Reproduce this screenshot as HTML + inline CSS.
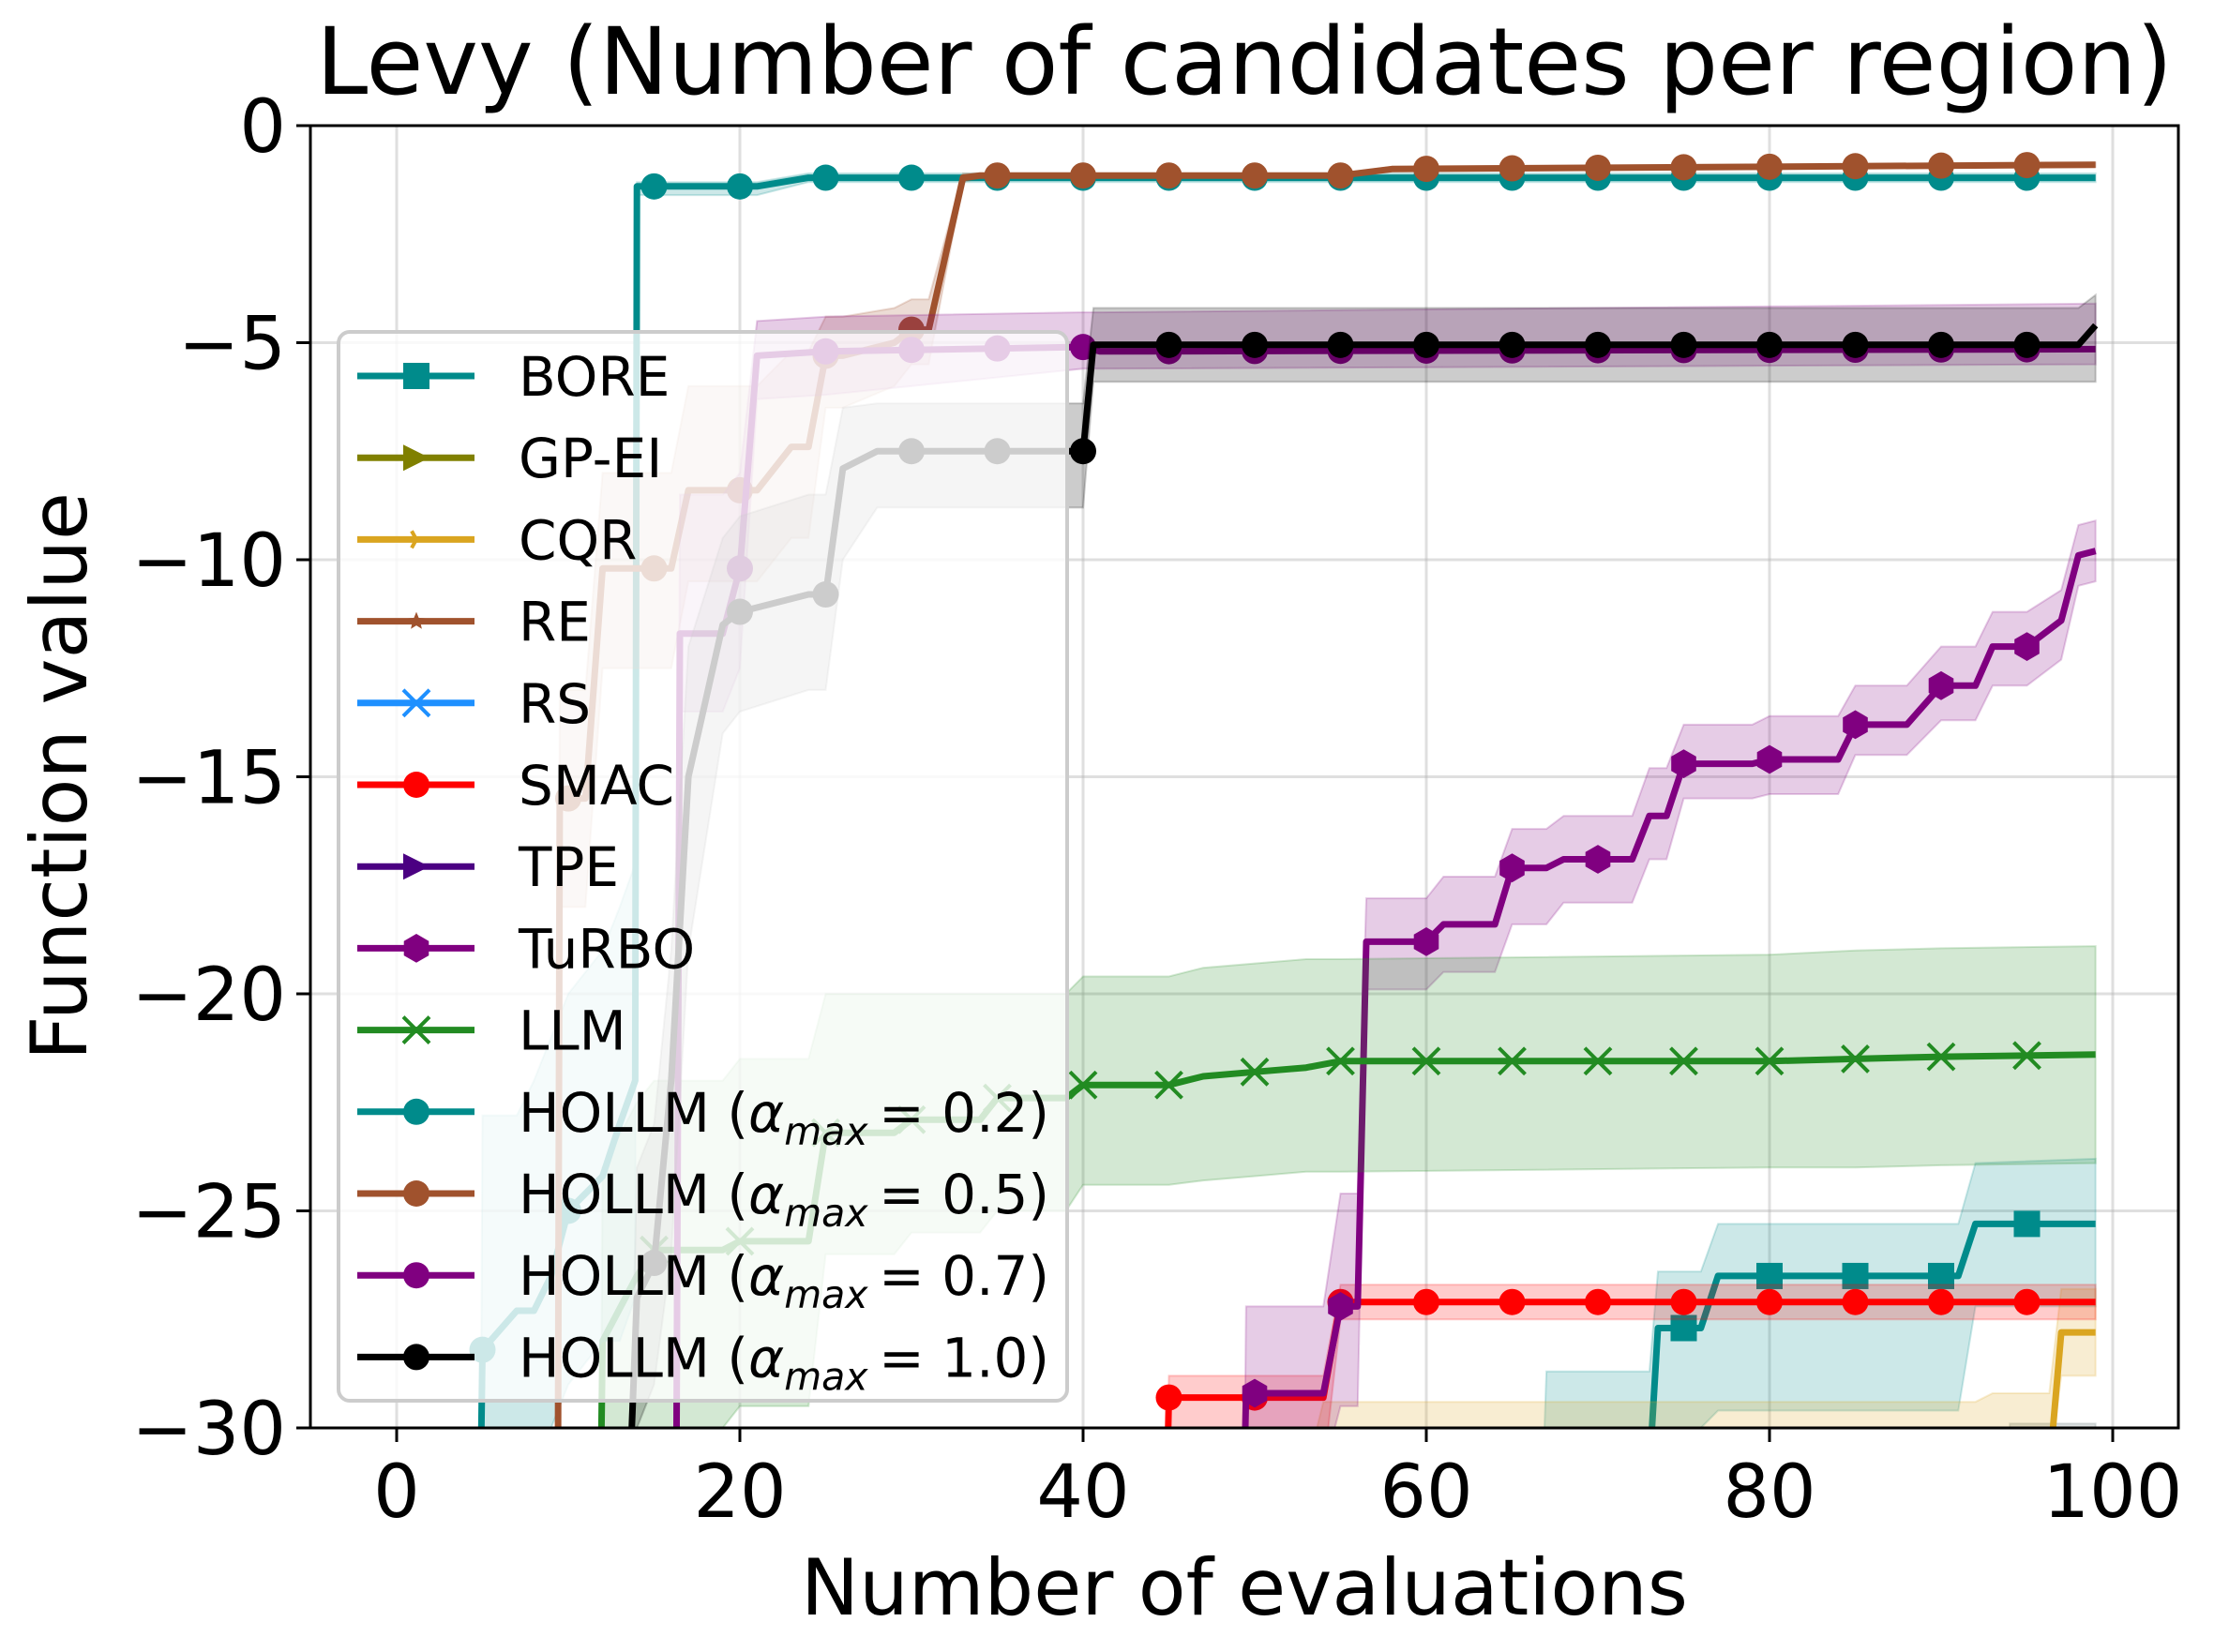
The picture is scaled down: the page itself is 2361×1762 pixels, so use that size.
<!DOCTYPE html>
<html><head><meta charset="utf-8"><style>
html,body{margin:0;padding:0;background:#fff;}
svg{display:block;font-family:"DejaVu Sans","Liberation Sans",sans-serif;}
</style></head><body>
<svg id="chart" width="2361" height="1762" viewBox="0 0 2361 1762" xmlns="http://www.w3.org/2000/svg">
<defs><clipPath id="plotclip"><rect x="331" y="134" width="1992" height="1389"/></clipPath></defs>
<rect x="0" y="0" width="2361" height="1762" fill="#fff"/>
<text x="1327" y="100" font-size="99" text-anchor="middle">Levy (Number of candidates per region)</text>
<g id="grid"></g>
<g id="series" clip-path="url(#plotclip)"></g>
<rect x="331" y="134" width="1992" height="1389" fill="none" stroke="#000" stroke-width="3"/>
<g id="ticks"></g>
<text x="1327" y="1722" font-size="83" text-anchor="middle">Number of evaluations</text>
<text transform="translate(92,828) rotate(-90)" font-size="83" text-anchor="middle">Function value</text>
<g id="legend"></g>
</svg>
<script>
const xTicks=[0,20,40,60,80,100];
const yTicks=[0,-5,-10,-15,-20,-25,-30];
const yTickLabels=["0","\u22125","\u221210","\u221215","\u221220","\u221225","\u221230"];

const boreX=[66.8,67,73,73.5,76,77,91,92,99];
const boreY=[-31,-31,-31,-27.7,-27.7,-26.5,-26.5,-25.3,-25.3];
const boreHi=[-31,-28.7,-28.7,-26.4,-26.4,-25.3,-25.3,-23.9,-23.8];
const boreLo=[-31,-31,-31,-30,-30,-29.6,-29.6,-27.2,-27.2];

const gpX=[94,99];
const gpY=[-31,-31];
const gpHi=[-29.9,-29.9];
const gpLo=[-31,-31];

const cqrX=[53,54,92,93,96.3,97,99];
const cqrY=[-31,-31,-31,-31,-31,-27.8,-27.8];
const cqrHi=[-31,-29.4,-29.4,-29.2,-29.2,-26.8,-26.8];
const cqrLo=[-31,-31,-31,-31,-31,-28.8,-28.8];

const smacX=[44.9,45,54,55,99];
const smacY=[-31,-29.3,-29.3,-27.1,-27.1];
const smacHi=[-31,-28.8,-28.8,-26.7,-26.7];
const smacLo=[-31,-31,-31,-27.5,-27.5];

const turboX=[49.4,49.5,54,55,56,56.5,60,61,62,64,65,67,68,70,72,73,74,75,79,80,84,85,88,90,92,93,95,97,98,99];
const turboY=[-31,-29.2,-29.2,-27.2,-27.2,-18.8,-18.8,-18.4,-18.4,-18.4,-17.1,-17.1,-16.9,-16.9,-16.9,-15.9,-15.9,-14.7,-14.7,-14.6,-14.6,-13.8,-13.8,-12.9,-12.9,-12.0,-12.0,-11.4,-9.9,-9.8];
const turboHi=[-31,-27.2,-27.2,-24.6,-24.6,-17.8,-17.8,-17.3,-17.3,-17.3,-16.2,-16.2,-15.9,-15.9,-15.9,-14.8,-14.8,-13.8,-13.8,-13.6,-13.6,-12.9,-12.9,-12.0,-12.0,-11.2,-11.2,-10.7,-9.2,-9.1];
const turboLo=[-31,-31,-31,-29.5,-29.5,-19.9,-19.9,-19.5,-19.5,-19.5,-18.4,-18.4,-17.9,-17.9,-17.9,-16.9,-16.9,-15.5,-15.5,-15.4,-15.4,-14.5,-14.5,-13.7,-13.7,-12.9,-12.9,-12.3,-10.6,-10.5];

const llmX=[11.9,12,14,15,19,20,24,25,29,30,34,35,39,40,45,47,50,53,55,80,85,90,99];
const llmY=[-31,-28,-26.5,-25.9,-25.9,-25.7,-25.7,-23.2,-23.2,-22.9,-22.9,-22.4,-22.4,-22.1,-22.1,-21.9,-21.8,-21.7,-21.55,-21.55,-21.5,-21.45,-21.4];
const llmHi=[-31,-24,-22.5,-22,-22,-21.5,-21.5,-20,-20,-20,-20,-20,-20,-19.6,-19.6,-19.4,-19.3,-19.2,-19.2,-19.1,-19.0,-18.95,-18.9];
const llmLo=[-31,-31,-31,-30,-30,-29.5,-29.5,-26,-26,-25.5,-25.5,-25,-25,-24.4,-24.4,-24.3,-24.2,-24.1,-24.1,-24.0,-24.0,-23.95,-23.9];

const h2X=[4.9,5,7,8,9,10,12,13,13.9,14,21,24,99];
const h2Y=[-31,-28.2,-27.3,-27.3,-26.5,-25.0,-24.2,-23,-22,-1.4,-1.4,-1.2,-1.2];
const h2Hi=[-31,-22.8,-22.8,-22,-21,-20,-19,-18,-17,-1.3,-1.3,-1.1,-1.1];
const h2Lo=[-31,-31,-31,-31,-30,-29,-28,-28,-27,-1.6,-1.6,-1.3,-1.3];

const h5X=[9.4,9.5,11,12,16,17,18,20,21,23,24,25,26,29,30,31,33,34,55,58,99];
const h5Y=[-31,-15.5,-15.5,-10.2,-10.2,-8.4,-8.4,-8.4,-8.4,-7.4,-7.4,-5.3,-5.3,-5.0,-4.7,-4.7,-1.2,-1.15,-1.15,-1.0,-0.9];
const h5Hi=[-31,-13,-13,-8,-8,-6,-6,-6,-6,-5.2,-5.2,-4.4,-4.4,-4.2,-4.0,-4.0,-1.1,-1.1,-1.1,-0.95,-0.85];
const h5Lo=[-31,-18,-18,-12.5,-12.5,-10.5,-10.5,-10.5,-10.5,-9.5,-9.5,-6.5,-6.5,-6.0,-5.5,-5.5,-1.3,-1.2,-1.2,-1.05,-0.95];

const h7X=[16.3,16.5,19,20,21,25,40,41,99];
const h7Y=[-31,-11.7,-11.7,-10.2,-5.3,-5.2,-5.1,-5.2,-5.15];
const h7Hi=[-31,-8.5,-8.5,-8,-4.5,-4.4,-4.3,-4.3,-4.1];
const h7Lo=[-31,-13.5,-13.5,-12.5,-6.3,-6.2,-5.6,-5.6,-5.5];

const h10X=[13.6,14,15,16,17,19,20,24,25,26,28,40,40.6,98,99];
const h10Y=[-31,-27,-26.2,-22,-15,-11.5,-11.2,-10.8,-10.8,-7.9,-7.5,-7.5,-5.05,-5.05,-4.6];
const h10Hi=[-31,-24,-23,-19,-12,-9.5,-9,-8.5,-8.5,-6.5,-6.4,-6.4,-4.2,-4.2,-3.9];
const h10Lo=[-31,-30,-29,-26,-19,-14,-13.5,-13,-13,-10,-8.8,-8.8,-5.9,-5.9,-5.9];

const NS="http://www.w3.org/2000/svg";
function X(v){return 423+18.3*v;}
function Y(v){return 134+46.3*(-v);}
function mk(tag,attrs,parent){const e=document.createElementNS(NS,tag);for(const k in attrs)e.setAttribute(k,attrs[k]);parent.appendChild(e);return e;}
function interp(xs,ys,x){if(x<xs[0]||x>xs[xs.length-1])return null;for(let i=0;i<xs.length-1;i++){if(x>=xs[i]&&x<=xs[i+1]){const t=(x-xs[i])/(xs[i+1]-xs[i]||1);return ys[i]+t*(ys[i+1]-ys[i]);}}return ys[ys.length-1];}

const grid=document.getElementById('grid');
const ticks=document.getElementById('ticks');
xTicks.forEach((t,i)=>{
  const g=mk('line',{x1:X(t),x2:X(t),y1:134,y2:1523,stroke:'#b0b0b0','stroke-opacity':0.4,'stroke-width':3},grid);
  
  
  const tk=mk('line',{x1:X(t),x2:X(t),y1:1523,y2:1538,stroke:'#000','stroke-width':3},ticks);
  
  
  const lb=mk('text',{x:X(t),y:1618,'font-size':78,'text-anchor':'middle'},ticks);
  lb.textContent=String(t);
  
  
});
yTicks.forEach((t,i)=>{
  const g=mk('line',{x1:331,x2:2323,y1:Y(t),y2:Y(t),stroke:'#b0b0b0','stroke-opacity':0.4,'stroke-width':3},grid);
  
  
  const tk=mk('line',{x1:316,x2:331,y1:Y(t),y2:Y(t),stroke:'#000','stroke-width':3},ticks);
  
  
  const lb=mk('text',{x:305,y:Y(t)+28,'font-size':78,'text-anchor':'end'},ticks);
  lb.textContent=yTickLabels[i];
  
  
});

const seriesG=document.getElementById('series');
function marker(shape,cx,cy,color,parent,r){
  r=r||14;let e;
  if(shape==='circle')e=mk('circle',{cx:cx,cy:cy,r:r,fill:color},parent);
  else if(shape==='square')e=mk('rect',{x:cx-r,y:cy-r,width:2*r,height:2*r,fill:color},parent);
  else if(shape==='hex'){let p=[];for(let k=0;k<6;k++){const a=Math.PI/2+k*Math.PI/3;p.push((cx+r*1.1*Math.cos(a)).toFixed(1)+','+(cy+r*1.1*Math.sin(a)).toFixed(1));}e=mk('polygon',{points:p.join(' '),fill:color},parent);}
  else if(shape==='x'){e=mk('path',{d:`M${cx-r} ${cy-r}L${cx+r} ${cy+r}M${cx-r} ${cy+r}L${cx+r} ${cy-r}`,stroke:color,'stroke-width':4,fill:'none'},parent);}
  else if(shape==='tri'){e=mk('polygon',{points:`${cx-r},${cy-r} ${cx+r},${cy} ${cx-r},${cy+r}`,fill:color},parent);}
  else if(shape==='star'){let p=[];for(let k=0;k<10;k++){const a=-Math.PI/2+k*Math.PI/5;const rr=k%2?r*0.45:r;p.push((cx+rr*Math.cos(a)).toFixed(1)+','+(cy+rr*Math.sin(a)).toFixed(1));}e=mk('polygon',{points:p.join(' '),fill:color},parent);}
  else if(shape==='tick'){e=mk('path',{d:`M${cx} ${cy}L${cx+r} ${cy}M${cx} ${cy}L${cx-r*0.5} ${cy-r*0.9}M${cx} ${cy}L${cx-r*0.5} ${cy+r*0.9}`,stroke:color,'stroke-width':4,fill:'none'},parent);}
  return e;
}
function drawSeries(name,xs,ys,lo,hi,color,shape){
  const g=mk('g',{},seriesG);
  
  
  let d='M'+xs.map((x,i)=>X(x).toFixed(1)+' '+Y(hi[i]).toFixed(1)).join('L');
  for(let i=xs.length-1;i>=0;i--)d+='L'+X(xs[i]).toFixed(1)+' '+Y(lo[i]).toFixed(1);
  d+='Z';
  const band=mk('path',{d:d,fill:color,'fill-opacity':0.2,stroke:color,'stroke-opacity':0.2,'stroke-width':2},g);
  
  
  const line=mk('polyline',{points:xs.map((x,i)=>X(x).toFixed(1)+','+Y(ys[i]).toFixed(1)).join(' '),fill:'none',stroke:color,'stroke-width':7,'stroke-linejoin':'round'},g);
  
  
  for(let m=0;m<=95;m+=5){
    const v=interp(xs,ys,m);
    if(v===null||v<-30.3)continue;
    const e=marker(shape,X(m),Y(v),color,g);
    
    
  }
}
drawSeries('bore',boreX,boreY,boreLo,boreHi,'#008b8b','square');
drawSeries('gp-ei',gpX,gpY,gpLo,gpHi,'#556b6b','tri');
drawSeries('cqr',cqrX,cqrY,cqrLo,cqrHi,'#daa520','tick');
drawSeries('smac',smacX,smacY,smacLo,smacHi,'#ff0000','circle');
drawSeries('turbo',turboX,turboY,turboLo,turboHi,'#800080','hex');
drawSeries('llm',llmX,llmY,llmLo,llmHi,'#228b22','x');
drawSeries('hollm-0-2',h2X,h2Y,h2Lo,h2Hi,'#008b8b','circle');
drawSeries('hollm-0-5',h5X,h5Y,h5Lo,h5Hi,'#a0522d','circle');
drawSeries('hollm-0-7',h7X,h7Y,h7Lo,h7Hi,'#800080','circle');
drawSeries('hollm-1-0',h10X,h10Y,h10Lo,h10Hi,'#000000','circle');

const legend=document.getElementById('legend');
const box=mk('rect',{x:361,y:354,width:777,height:1140,rx:12,fill:'#fff','fill-opacity':0.8,stroke:'#cccccc','stroke-width':4},legend);


const legNames=['BORE','GP-EI','CQR','RE','RS','SMAC','TPE','TuRBO','LLM','0.2','0.5','0.7','1.0'];
const legColors=['#008b8b','#808000','#daa520','#a0522d','#1e90ff','#ff0000','#4b0082','#800080','#228b22','#008b8b','#a0522d','#800080','#000000'];
const legShapes=['square','tri','tick','star','x','circle','tri','hex','x','circle','circle','circle','circle'];
legNames.forEach((n,i)=>{
  const y=401+87.2*i;
  const g=mk('g',{},legend);
  
  
  mk('line',{x1:381,x2:506,y1:y,y2:y,stroke:legColors[i],'stroke-width':7},g);
  marker(legShapes[i],444,y,legColors[i],g,i===2||i===3?10:14);
  const t=mk('text',{x:553,y:y+21,'font-size':58},g);
  if(i<9){t.textContent=n;}
  else{
    t.appendChild(document.createTextNode('HOLLM ('));
    const a=mk('tspan',{'font-style':'italic'},t);a.textContent='\u03b1';
    const s=mk('tspan',{'font-style':'italic','font-size':41,dy:14},t);s.textContent='max';
    const r=mk('tspan',{dy:-14},t);r.textContent='\u2009= '+n+')';
  }
});
</script>
</body></html>
